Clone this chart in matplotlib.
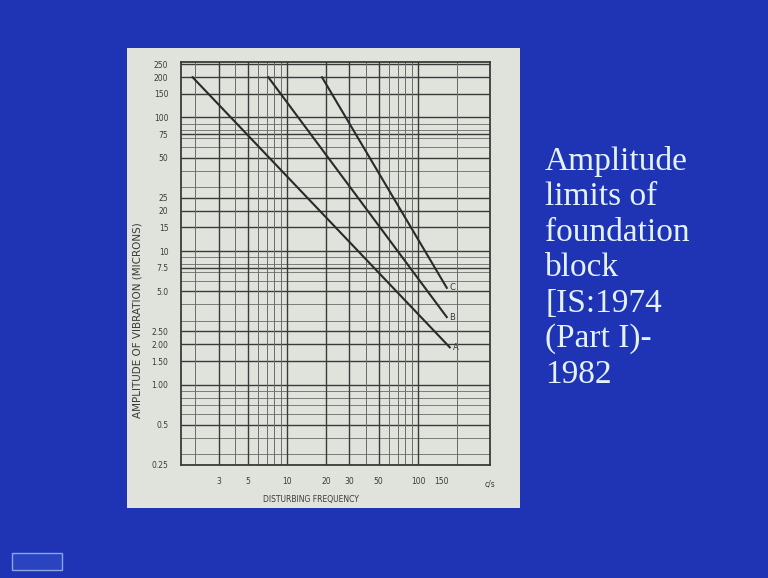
import numpy as np
import matplotlib
matplotlib.use("Agg")
import matplotlib.pyplot as plt
from matplotlib.patches import Rectangle

# tick values
freq_ticks = [3, 5, 10, 20, 30, 50, 100, 150]
amp_ticks = [250, 200, 150, 100, 75, 50, 25, 20, 15, 10, 7.5, 5.0, 2.5, 2.0, 1.5, 1.0, 0.5, 0.25]
amp_labels = ['250', '200', '150', '100', '75', '50', '25', '20', '15', '10', '7.5', '5.0',
              '2.50', '2.00', '1.50', '1.00', '0.5', '0.25']

# limit lines (start / end points, freq in c/s, amplitude in microns)
line_names = ['A', 'B', 'C']
line_freq = [[1.9, 175], [7.2, 166], [18.5, 166]]
line_amp = [[200, 1.9], [200, 3.2], [200, 5.3]]

slide_blue = '#1e34b4'
panel_col = '#dfe3dc'
ink = '#3a3a3a'

fig = plt.figure(figsize=(7.68, 5.78), dpi=100)
fig.set_facecolor(slide_blue)

W, H = 768.0, 578.0
def px(x0, y0, x1, y1):
    return (x0 / W, 1 - y1 / H, (x1 - x0) / W, (y1 - y0) / H)

# light panel behind the chart
x, y, w, h = px(127, 48, 520, 508)
fig.patches.append(Rectangle((x, y), w, h, transform=fig.transFigure,
                             facecolor=panel_col, edgecolor='none', zorder=-5))
# little icon bottom left
x, y, w, h = px(12, 553, 62, 570)
fig.patches.append(Rectangle((x, y), w, h, transform=fig.transFigure,
                             facecolor='#2a44c0', edgecolor='#8ea4e2', lw=1.0, zorder=-5))

ax = fig.add_axes(px(181, 62, 490, 465))
ax.set_zorder(5)
ax.set_facecolor(panel_col)
ax.set_xscale('log')
ax.set_yscale('log')
ax.set_xlim(1.55, 355)
ax.set_ylim(0.25, 260)

# grid
for v in amp_ticks:
    ax.axhline(v, color=ink, lw=1.0, zorder=1)
ymin = [m * 10.0 ** e for e in range(-1, 3) for m in range(2, 10)]
for v in ymin:
    if 0.25 < v < 260 and v not in amp_ticks:
        ax.axhline(v, color='#6a6a6a', lw=0.6, zorder=1)
xgrid = [m * 10.0 ** e for e in range(0, 3) for m in range(1, 10)]
for v in xgrid:
    if 1.55 < v <= 200:
        heavy = v in freq_ticks
        ax.axvline(v, color=ink if heavy else '#6a6a6a', lw=1.0 if heavy else 0.7, zorder=1)

for name, f, a in zip(line_names, line_freq, line_amp):
    ax.plot(f, a, color='#2a2a2a', lw=1.5, zorder=3)
    ax.text(f[1] * 1.05, a[1], name, fontsize=6, color=ink, ha='left', va='center')

ax.set_xticks(freq_ticks)
ax.set_xticklabels([str(v) for v in freq_ticks])
ax.set_yticks(amp_ticks)
ax.set_yticklabels(amp_labels)
ax.minorticks_off()
ax.tick_params(length=0, labelsize=5.5, colors=ink, pad=9)

for s in ax.spines.values():
    s.set_color(ink)
    s.set_linewidth(1.3)

ax.text(1.0, -0.035, 'c/s', transform=ax.transAxes, fontsize=5.5, color=ink,
        ha='center', va='top')
ax.set_xlabel('DISTURBING FREQUENCY', fontsize=5.5, color=ink)
ax.xaxis.set_label_coords(0.42, -0.075)
ax.set_ylabel('AMPLITUDE OF VIBRATION (MICRONS)', fontsize=7.5, color=ink)
ax.yaxis.set_label_coords(-0.125, 0.36)

fig.text(545 / W, 1 - 146 / H,
         'Amplitude\nlimits of\nfoundation\nblock\n[IS:1974\n(Part I)-\n1982',
         fontsize=24, color='#e4f2ff', family='Liberation Serif',
         ha='left', va='top', linespacing=1.21)

fig.savefig('out.png', dpi=100, facecolor=fig.get_facecolor())
